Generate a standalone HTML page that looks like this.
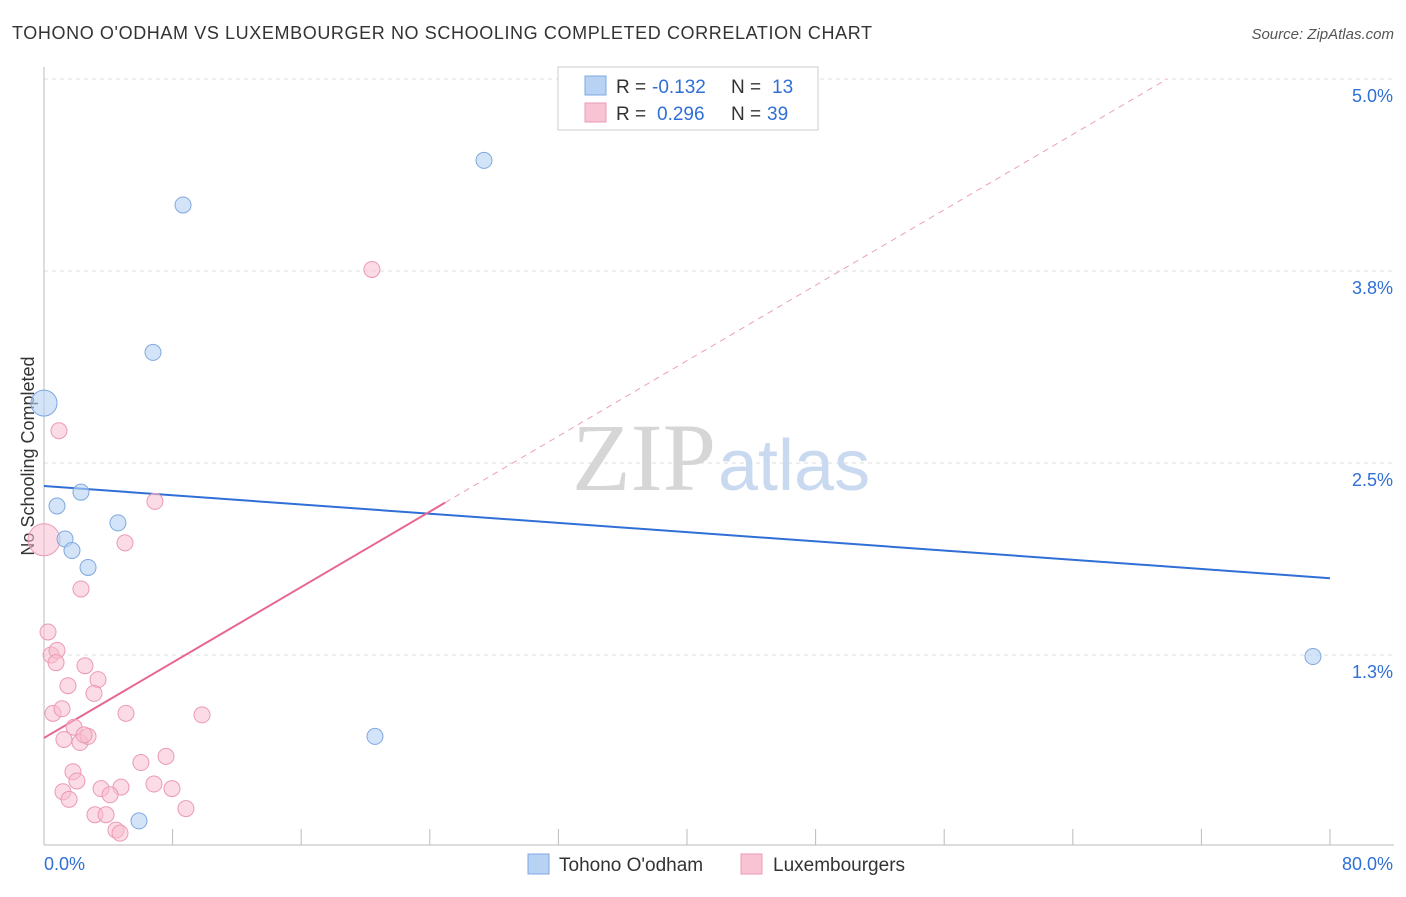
<!DOCTYPE html>
<html><head><meta charset="utf-8"><style>
body{margin:0;background:#fff;font-family:"Liberation Sans",sans-serif;}
svg text{font-family:"Liberation Sans",sans-serif;}
</style></head><body>
<svg id="chart" width="1406" height="892" xmlns="http://www.w3.org/2000/svg">
<text x="12" y="39" font-size="18" fill="#333" textLength="860">TOHONO O'ODHAM VS LUXEMBOURGER NO SCHOOLING COMPLETED CORRELATION CHART</text>
<text x="1394" y="39" font-size="15" fill="#555" font-style="italic" text-anchor="end">Source: ZipAtlas.com</text>
<text x="34" y="456" font-size="18" fill="#333" text-anchor="middle" transform="rotate(-90 34 456)">No Schooling Completed</text>
<g id="grid"></g>
<g id="axes"></g>
<text x="716" y="490" font-size="96" fill="#d6d6d6" text-anchor="end" style="font-family:'Liberation Serif',serif">ZIP</text>
<text x="718" y="490" font-size="72" fill="#c9daf0">atlas</text>
<g id="lines"></g>
<g id="points"></g>
<g font-size="19">
<rect x="558" y="67" width="260" height="63" fill="#fff" stroke="#ccc"/>
<rect x="585" y="76" width="21" height="19" fill="#b8d2f4" stroke="#7fa8e0"/>
<rect x="585" y="103" width="21" height="19" fill="#f8c4d4" stroke="#ec9ab4"/>
<text x="616" y="93" fill="#333">R =</text>
<text x="652" y="93" fill="#2f6fd6">-0.132</text>
<text x="731" y="93" fill="#333">N =</text>
<text x="772" y="93" fill="#2f6fd6">13</text>
<text x="616" y="120" fill="#333">R =</text>
<text x="657" y="120" fill="#2f6fd6">0.296</text>
<text x="731" y="120" fill="#333">N =</text>
<text x="767" y="120" fill="#2f6fd6">39</text>
</g>
<g>
<rect x="528" y="854" width="21" height="20" fill="#b8d2f4" stroke="#7fa8e0"/>
<text x="559" y="871" font-size="19" fill="#333">Tohono O'odham</text>
<rect x="741" y="854" width="21" height="20" fill="#f8c4d4" stroke="#ec9ab4"/>
<text x="773" y="871" font-size="19" fill="#333">Luxembourgers</text>
</g>
</svg>
<script>
const yTicks=[1.25,2.5,3.75,5.0];
const yTickLabels=["1.3%","2.5%","3.8%","5.0%"];
const xTicks=[0,8,16,24,32,40,48,56,64,72,80];
const blueX=[0,0.81,1.31,1.74,2.30,2.74,4.60,6.78,8.65,27.37,20.59,5.91,78.94];
const blueY=[2.89,2.22,2.005,1.93,2.31,1.82,2.11,3.22,4.18,4.47,0.72,0.17,1.24];
const pinkX=[0,0.93,6.9,5.04,20.4,2.3,0.25,0.44,0.81,0.75,2.55,1.49,3.36,3.11,0.56,1.12,5.10,9.83,1.87,1.24,2.24,2.74,2.49,7.59,6.03,1.80,2.05,1.18,1.56,3.55,4.79,4.11,6.84,7.96,8.83,3.17,3.86,4.48,4.73];
const pinkY=[2.0,2.71,2.25,1.98,3.76,1.68,1.40,1.25,1.28,1.20,1.18,1.05,1.09,1.00,0.87,0.90,0.87,0.86,0.78,0.70,0.68,0.72,0.73,0.59,0.55,0.49,0.43,0.36,0.31,0.38,0.39,0.34,0.41,0.38,0.25,0.21,0.21,0.11,0.09];
const blueTrend=[2.35,1.75];
const pinkTrend=[0.71,0.0614];
const NS="http://www.w3.org/2000/svg";
const X=v=>44+v*1286/80, Y=v=>847-v*153.6;
function mk(t,a,p){const e=document.createElementNS(NS,t);for(const k in a)e.setAttribute(k,a[k]);p.appendChild(e);return e;}
const grid=document.getElementById('grid'),axes=document.getElementById('axes');
yTicks.forEach((t,i)=>{
 const l=mk('line',{x1:44,x2:1394,y1:Y(t),y2:Y(t),stroke:'#ddd','stroke-dasharray':'4,4'},grid);
 
 
 const tx=mk('text',{x:1393,y:Y(t)+23,'font-size':18,fill:'#2f6fd6','text-anchor':'end'},axes);
 tx.textContent=yTickLabels[i];
 
 
});
const ax=mk('line',{x1:44,x2:1394,y1:845,y2:845,stroke:'#bbb'},axes);


const ay=mk('line',{x1:44,x2:44,y1:67,y2:845,stroke:'#bbb'},axes);


xTicks.forEach(t=>{const l=mk('line',{x1:X(t),x2:X(t),y1:829,y2:845,stroke:'#bbb'},axes);
 
 });
const xl0=mk('text',{x:44,y:870,'font-size':18,fill:'#2f6fd6'},axes);xl0.textContent='0.0%';


const xl1=mk('text',{x:1393,y:870,'font-size':18,fill:'#2f6fd6','text-anchor':'end'},axes);xl1.textContent='80.0%';


const lines=document.getElementById('lines');
const bl=mk('line',{x1:X(0),y1:Y(blueTrend[0]),x2:X(80),y2:Y(blueTrend[1]),stroke:'#2f6fd6','stroke-width':2},lines);


const xs=24.95,xe=(5-pinkTrend[0])/pinkTrend[1];
const pl=mk('line',{x1:X(0),y1:Y(pinkTrend[0]),x2:X(xs),y2:Y(pinkTrend[0]+pinkTrend[1]*xs),stroke:'#e8658f','stroke-width':2},lines);


const pd=mk('line',{x1:X(xs),y1:Y(pinkTrend[0]+pinkTrend[1]*xs),x2:X(xe),y2:Y(5),stroke:'#eaa0b8','stroke-width':1,'stroke-dasharray':'6,5'},lines);


const pts=document.getElementById('points');
pinkX.forEach((x,i)=>{const c=mk('circle',{cx:X(x),cy:Y(pinkY[i]),r:i==0?16:8,fill:'rgba(248,190,208,0.55)',stroke:'#ec9ab4','stroke-width':1},pts);
 
 });
blueX.forEach((x,i)=>{const c=mk('circle',{cx:X(x),cy:Y(blueY[i]),r:i==0?13:8,fill:'rgba(184,210,244,0.6)',stroke:'#7fa8e0','stroke-width':1},pts);
 
 });
</script>
</body></html>
